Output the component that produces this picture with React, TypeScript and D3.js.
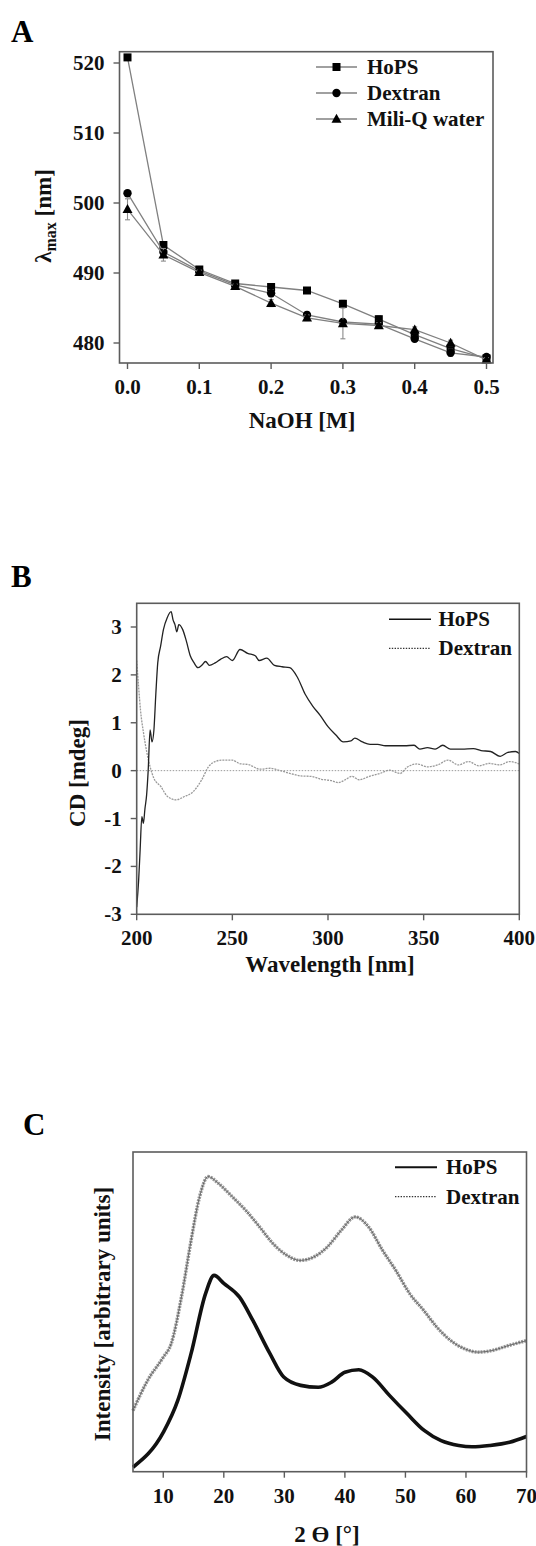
import React from "react";
import * as d3 from "d3";

const FONT = "'Liberation Serif', 'Times New Roman', serif";
const FRAME = "#5c5c5c";

// ---- panel A: lambda max vs NaOH ----
const naohM = [0, 0.05, 0.1, 0.15, 0.2, 0.25, 0.3, 0.35, 0.4, 0.45, 0.5];
const hopsLambda = [520.8, 494.0, 490.5, 488.5, 488.0, 487.5, 485.6, 483.4, 481.2, 479.2, 477.8];
const dextranLambda = [501.4, 493.0, 490.3, 488.3, 487.1, 484.0, 483.0, 482.7, 480.6, 478.6, 478.0];
const waterLambda = [499.1, 492.6, 490.1, 488.1, 485.7, 483.6, 482.8, 482.5, 481.9, 480.0, 477.6];
const hopsErr = [0.3, 0.4, 0.3, 0.3, 0.4, 0.4, 0.5, 0.5, 0.4, 0.4, 0.3];
const dextranErr = [0.4, 0.4, 0.3, 0.3, 0.5, 0.5, 0.4, 0.4, 0.4, 0.5, 0.3];
const waterErr = [1.5, 0.9, 0.3, 0.3, 0.5, 0.4, 2.2, 0.4, 0.4, 0.4, 0.3];
const aXTicks = [0, 0.1, 0.2, 0.3, 0.4, 0.5];
const aYTicks = [480, 490, 500, 510, 520];
const aSeries = ["HoPS", "Dextran", "Mili-Q water"];

// ---- panel B: CD spectra ----
const cdWaveHops = [200, 201, 201.8, 202.7, 203.5, 204.3, 205.2, 206, 207, 208, 209, 210, 211, 212.5, 214, 216, 218, 219, 220, 221, 222, 224, 226, 228, 230, 232, 234, 236, 238, 241, 244, 247, 250, 254, 258, 262, 264, 268, 272, 276, 280, 284, 288, 292, 296, 300, 304, 308, 312, 314, 318, 322, 326, 330, 335, 340, 345, 348, 352, 356, 360, 364, 370, 376, 380, 385, 390, 394, 398, 400];
const cdHops = [-2.85, -2.3, -1.65, -0.96, -1.1, -0.8, -0.5, 0.0, 0.85, 0.6, 0.85, 1.6, 2.25, 2.6, 2.95, 3.2, 3.32, 3.15, 3.05, 2.9, 3.05, 2.95, 2.7, 2.4, 2.25, 2.15, 2.2, 2.28, 2.2, 2.25, 2.33, 2.38, 2.3, 2.53, 2.45, 2.4, 2.3, 2.35, 2.2, 2.17, 2.15, 1.95, 1.6, 1.35, 1.15, 0.92, 0.75, 0.6, 0.62, 0.68, 0.6, 0.55, 0.55, 0.52, 0.52, 0.52, 0.53, 0.45, 0.48, 0.45, 0.53, 0.45, 0.45, 0.46, 0.42, 0.4, 0.3, 0.38, 0.4, 0.36];
const cdWaveDextran = [200, 201, 202, 203.6, 205.4, 207.2, 209, 212.6, 216.1, 220.6, 225, 229.5, 234, 237.5, 241, 244.6, 250, 253.6, 259, 264.3, 269.7, 275, 280.4, 285.8, 291.1, 296.5, 301.9, 305.5, 309, 312.6, 316.2, 321.6, 327, 332.3, 337.7, 341.3, 346.6, 352, 357.4, 362.8, 368.1, 373.5, 378.9, 384.3, 389.7, 395, 400];
const cdDextran = [2.3, 1.75, 1.26, 0.78, 0.36, 0.05, -0.16, -0.33, -0.54, -0.61, -0.54, -0.44, -0.19, 0.08, 0.19, 0.22, 0.22, 0.15, 0.12, 0.03, 0.05, 0.0, -0.06, -0.11, -0.12, -0.18, -0.21, -0.25, -0.19, -0.12, -0.19, -0.12, -0.06, 0.01, -0.06, 0.07, 0.14, 0.08, 0.12, 0.22, 0.12, 0.19, 0.1, 0.15, 0.12, 0.19, 0.14];
const bXTicks = [200, 250, 300, 350, 400];
const bYTicks = [-3, -2, -1, 0, 1, 2, 3];

// ---- panel C: XRD ----
const xrdAngleHops = [5, 10, 12.4, 14.6, 17, 18.4, 20, 22.6, 24.8, 27.6, 29.9, 32.7, 35.6, 37.8, 40, 42.3, 44.6, 47.4, 50.3, 53.1, 55.9, 58.8, 61, 63.9, 67.2, 70];
const xrdHops = [1.4, 12.3, 22.3, 37, 55.8, 61.4, 58.9, 54.6, 47.3, 37, 29.6, 27, 26.4, 28, 31.1, 31.9, 29.6, 23.8, 18.1, 12.9, 9.7, 8.2, 7.8, 8.2, 9.2, 11];
const xrdAngleDextran = [5, 7.4, 10, 11.3, 13, 14.6, 16, 17.4, 19.1, 21.4, 23.6, 25.9, 28.1, 30.4, 32.6, 34.9, 37.1, 39.4, 41.7, 43.9, 46.2, 48.4, 50.7, 53, 55.2, 57.5, 59.7, 62, 64.3, 67.1, 70];
const xrdDextran = [19.1, 28.5, 35.8, 40, 54.6, 72.4, 86, 92.3, 90.2, 86, 81.8, 76.6, 71.4, 67.7, 66.1, 67.2, 70.3, 75.5, 79.7, 76.6, 69.3, 63, 55.7, 50.5, 45.2, 41, 38.5, 37.4, 37.9, 39.5, 41];
const cXTicks = [10, 20, 30, 40, 50, 60, 70];

const tickStyle = { fontFamily: FONT, fontWeight: 700, fontSize: 21, fill: "#111" };
const titleStyle = { fontFamily: FONT, fontWeight: 700, fontSize: 23, fill: "#111" };
const letterStyle = { fontFamily: FONT, fontWeight: 700, fontSize: 31, fill: "#000" };

function Frame({ x0, x1, y0, y1 }) {
  return <rect x={x0} y={y0} width={x1 - x0} height={y1 - y0} fill="none" stroke={FRAME} strokeWidth={1.6} />;
}

function XAxis({ scale, ticks, y, fmt }) {
  return (
    <g>
      {ticks.map((t) => (
        <g key={t}>
          <line x1={scale(t)} x2={scale(t)} y1={y} y2={y + 6} stroke={FRAME} strokeWidth={1.4} />
          <text x={scale(t)} y={y + 31} textAnchor="middle" style={tickStyle}>{fmt(t)}</text>
        </g>
      ))}
    </g>
  );
}

function YAxis({ scale, ticks, x, fmt }) {
  return (
    <g>
      {ticks.map((t) => (
        <g key={t}>
          <line x1={x - 6} x2={x} y1={scale(t)} y2={scale(t)} stroke={FRAME} strokeWidth={1.4} />
          <text x={x - 15} y={scale(t) + 7} textAnchor="end" style={tickStyle}>{fmt(t)}</text>
        </g>
      ))}
    </g>
  );
}

function Marker({ kind, x, y }) {
  if (kind === 0) return <rect x={x - 4} y={y - 4} width={8} height={8} fill="#000" />;
  if (kind === 1) return <circle cx={x} cy={y} r={4.2} fill="#000" />;
  return <path d={`M${x},${y - 5.2} L${x + 5},${y + 3.8} L${x - 5},${y + 3.8} Z`} fill="#000" />;
}

function PanelA() {
  const x = d3.scaleLinear().domain([0, 0.5]).range([127.5, 486.5]);
  const y = d3.scaleLinear().domain([480, 520]).range([343, 63]);
  const series = [
    { vals: hopsLambda, err: hopsErr },
    { vals: dextranLambda, err: dextranErr },
    { vals: waterLambda, err: waterErr },
  ];
  const line = d3.line<number>().x((_, i) => x(naohM[i])).y((d) => y(d));
  const legendY = [67, 93, 119];
  return (
    <g>
      <text x={11} y={42} style={letterStyle}>A</text>
      {series.map((s, k) => (
        <g key={k}>
          <path d={line(s.vals) || ""} fill="none" stroke="#808080" strokeWidth={1.3} />
          {s.vals.map((v, i) => (
            <g key={i} stroke="#8a8a8a" strokeWidth={1.1}>
              <line x1={x(naohM[i])} x2={x(naohM[i])} y1={y(v - s.err[i])} y2={y(v + s.err[i])} />
              <line x1={x(naohM[i]) - 2.5} x2={x(naohM[i]) + 2.5} y1={y(v - s.err[i])} y2={y(v - s.err[i])} />
              <line x1={x(naohM[i]) - 2.5} x2={x(naohM[i]) + 2.5} y1={y(v + s.err[i])} y2={y(v + s.err[i])} />
            </g>
          ))}
          {s.vals.map((v, i) => <Marker key={i} kind={k} x={x(naohM[i])} y={y(v)} />)}
        </g>
      ))}
      <Frame x0={119.5} x1={493} y0={51.7} y1={363} />
      <XAxis scale={x} ticks={aXTicks} y={363} fmt={(t) => t.toFixed(1)} />
      <YAxis scale={y} ticks={aYTicks} x={119.5} fmt={(t) => String(t)} />
      {aSeries.map((name, k) => (
        <g key={name}>
          <line x1={316} x2={357} y1={legendY[k]} y2={legendY[k]} stroke="#808080" strokeWidth={1.3} />
          <Marker kind={k} x={336.5} y={legendY[k]} />
          <text x={367} y={legendY[k] + 7} style={tickStyle}>{name}</text>
        </g>
      ))}
      <text x={302} y={428} textAnchor="middle" style={titleStyle}>NaOH [M]</text>
      <text transform="translate(51,216) rotate(-90)" textAnchor="middle" style={titleStyle}>
        λ<tspan fontSize={16} dy={5}>max</tspan>
        <tspan dy={-5}> [nm]</tspan>
      </text>
    </g>
  );
}

function PanelB() {
  const x = d3.scaleLinear().domain([200, 400]).range([136.7, 519.3]);
  const y = d3.scaleLinear().domain([-3, 3]).range([914.3, 627]);
  const hopsLine = d3.line<number>().x((_, i) => x(cdWaveHops[i])).y((d) => y(d)).curve(d3.curveMonotoneX);
  const dexLine = d3.line<number>().x((_, i) => x(cdWaveDextran[i])).y((d) => y(d)).curve(d3.curveMonotoneX);
  return (
    <g>
      <text x={11} y={587} style={letterStyle}>B</text>
      <line x1={x(200)} x2={x(400)} y1={y(0)} y2={y(0)} stroke="#9a9a9a" strokeWidth={1} strokeDasharray="1.5,1.5" />
      <path d={dexLine(cdDextran) || ""} fill="none" stroke="#9a9a9a" strokeWidth={1.3} strokeDasharray="2,1" />
      <path d={hopsLine(cdHops) || ""} fill="none" stroke="#222" strokeWidth={1.3} />
      <Frame x0={136.7} x1={519.3} y0={603.3} y1={914.3} />
      <XAxis scale={x} ticks={bXTicks} y={914.3} fmt={(t) => String(t)} />
      <YAxis scale={y} ticks={bYTicks} x={136.7} fmt={(t) => String(t)} />
      <line x1={389} x2={431} y1={619.3} y2={619.3} stroke="#111" strokeWidth={1.6} />
      <text x={438.5} y={626.3} style={tickStyle}>HoPS</text>
      <line x1={389} x2={431} y1={648.3} y2={648.3} stroke="#333" strokeWidth={1.3} strokeDasharray="1.4,1.4" />
      <text x={438.5} y={655.3} style={tickStyle}>Dextran</text>
      <text x={330} y={972} textAnchor="middle" style={titleStyle}>Wavelength [nm]</text>
      <text transform="translate(85,773) rotate(-90)" textAnchor="middle" style={titleStyle}>CD [mdeg]</text>
    </g>
  );
}

function PanelC() {
  const x = d3.scaleLinear().domain([5, 70]).range([133, 526.5]);
  const y = d3.scaleLinear().domain([0, 100]).range([1471.7, 1152]);
  const hopsLine = d3.line<number>().x((_, i) => x(xrdAngleHops[i])).y((d) => y(d)).curve(d3.curveMonotoneX);
  const dexLine = d3.line<number>().x((_, i) => x(xrdAngleDextran[i])).y((d) => y(d)).curve(d3.curveMonotoneX);
  return (
    <g>
      <text x={23} y={1135} style={letterStyle}>C</text>
      <path d={dexLine(xrdDextran) || ""} fill="none" stroke="#9a9a9a" strokeWidth={3.5} strokeDasharray="2,1" />
      <path d={dexLine(xrdDextran) || ""} fill="none" stroke="#555" strokeWidth={0.8} />
      <path d={hopsLine(xrdHops) || ""} fill="none" stroke="#111" strokeWidth={3.6} />
      <Frame x0={133} x1={526.5} y0={1152} y1={1471.7} />
      <XAxis scale={x} ticks={cXTicks} y={1471.7} fmt={(t) => String(t)} />
      <line x1={395} x2={437} y1={1167.3} y2={1167.3} stroke="#111" strokeWidth={2} />
      <text x={446} y={1174.3} style={tickStyle}>HoPS</text>
      <line x1={395} x2={437} y1={1196.7} y2={1196.7} stroke="#333" strokeWidth={1.3} strokeDasharray="1.4,1.4" />
      <text x={446} y={1203.7} style={tickStyle}>Dextran</text>
      <text x={327} y={1542} textAnchor="middle" style={titleStyle}>2 ϴ [°]</text>
      <text transform="translate(110,1314) rotate(-90)" textAnchor="middle" style={titleStyle}>Intensity [arbitrary units]</text>
    </g>
  );
}

export default function App() {
  return (
    <svg width={536} height={1546} style={{ position: "absolute", left: 0, top: 0, background: "#fff" }}>
      <PanelA />
      <PanelB />
      <PanelC />
    </svg>
  );
}
